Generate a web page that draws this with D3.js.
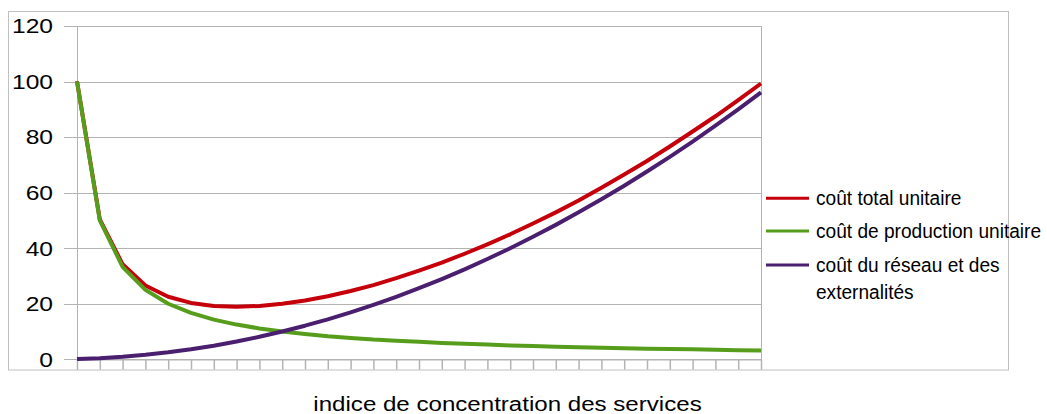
<!DOCTYPE html>
<html><head><meta charset="utf-8">
<script src="https://cdn.jsdelivr.net/npm/d3@7"></script>
<style>html,body{margin:0;padding:0;background:#fff;}svg{display:block;font-family:"Liberation Sans",Arial,sans-serif;}</style>
</head><body><svg id="c" width="1047" height="414"></svg>
<script>
const categories = d3.range(1, 32);
const totalCost = [100.1,50.4,34.2,26.6,22.5,20.3,19.2,18.9,19.2,20,21.2,22.7,24.6,26.7,29.2,31.9,34.8,38,41.4,45,48.9,52.9,57.2,61.8,66.5,71.4,76.6,82,87.5,93.3,99.3];
const productionCost = [100,50,33.3,25,20,16.7,14.3,12.5,11.1,10,9.1,8.3,7.7,7.1,6.7,6.3,5.9,5.6,5.3,5,4.8,4.5,4.3,4.2,4,3.8,3.7,3.6,3.4,3.3,3.2];
const networkCost = [0.1,0.4,0.9,1.6,2.5,3.6,4.9,6.4,8.1,10,12.1,14.4,16.9,19.6,22.5,25.6,28.9,32.4,36.1,40,44.1,48.4,52.9,57.6,62.5,67.6,72.9,78.4,84.1,90,96.1];
const yTicks = [0,20,40,60,80,100,120];
const seriesNames = ["coût total unitaire","coût de production unitaire","coût du réseau et des|externalités"];
const seriesColors = ["#c5000b","#579d1c","#4b1f6f"];
const xTitle = "indice de concentration des services";

const svg = d3.select("#c");
const L = 77, R = 761, T = 26, B = 359.3;
const x = d3.scalePoint().domain(categories).range([L, R]);
const y = d3.scaleLinear().domain([0, 120]).range([B, T]);
const grid = "#b3b3b3";

// outer frame
svg.append("rect").attr("x", 8.5).attr("y", 11.5).attr("width", 1000).attr("height", 358.5)
  .attr("fill", "none").attr("stroke", "#c0c0c0");

// horizontal gridlines + left tick marks
svg.append("g").selectAll("line").data(yTicks).join("line")
  .attr("x1", 64).attr("x2", R).attr("y1", d => Math.round(y(d)) + 0.5).attr("y2", d => Math.round(y(d)) + 0.5)
  .attr("stroke", grid);
// vertical axis lines
svg.append("line").attr("x1", L + 0.5).attr("x2", L + 0.5).attr("y1", T).attr("y2", 369.5).attr("stroke", grid);
svg.append("line").attr("x1", R + 0.5).attr("x2", R + 0.5).attr("y1", T).attr("y2", 369.5).attr("stroke", grid);
// bottom tick marks via axis
const xAxis = svg.append("g").attr("transform", `translate(0,${Math.round(B) + 0.5})`)
  .call(d3.axisBottom(x).tickSize(10).tickFormat(""));
xAxis.select(".domain").attr("stroke", grid);
xAxis.selectAll(".tick line").attr("stroke", grid).attr("stroke-width", 1.5);

// y labels
svg.append("g").selectAll("g").data(yTicks).join("g")
  .attr("transform", d => `translate(53,${y(d) + 7.3}) scale(1.2,1)`)
  .append("text").attr("text-anchor", "end").attr("font-size", 20.5).attr("fill", "#000").text(d => d);

// series
const line = d3.line().x((d, i) => x(categories[i])).y(d => y(d));
[totalCost, productionCost, networkCost].forEach((s, k) => {
  svg.append("path").datum(s).attr("d", line).attr("fill", "none")
    .attr("stroke", seriesColors[k]).attr("stroke-width", 4).attr("stroke-linejoin", "round");
});

// x title
svg.append("g").attr("transform", "translate(507.5,411) scale(1.23,1)")
  .append("text").attr("text-anchor", "middle").attr("font-size", 19.6).attr("fill", "#000").text(xTitle);

// legend
const legY = [198.3, 231, 265];
seriesNames.forEach((n, k) => {
  svg.append("line").attr("x1", 766).attr("x2", 809).attr("y1", legY[k]).attr("y2", legY[k])
    .attr("stroke", seriesColors[k]).attr("stroke-width", 3);
  n.split("|").forEach((t, j) => {
    svg.append("g").attr("transform", `translate(816,${legY[k] + 6.6 + j * 27}) scale(0.91,1)`)
      .append("text").attr("font-size", 21).attr("fill", "#000").text(t);
  });
});
</script></body></html>
